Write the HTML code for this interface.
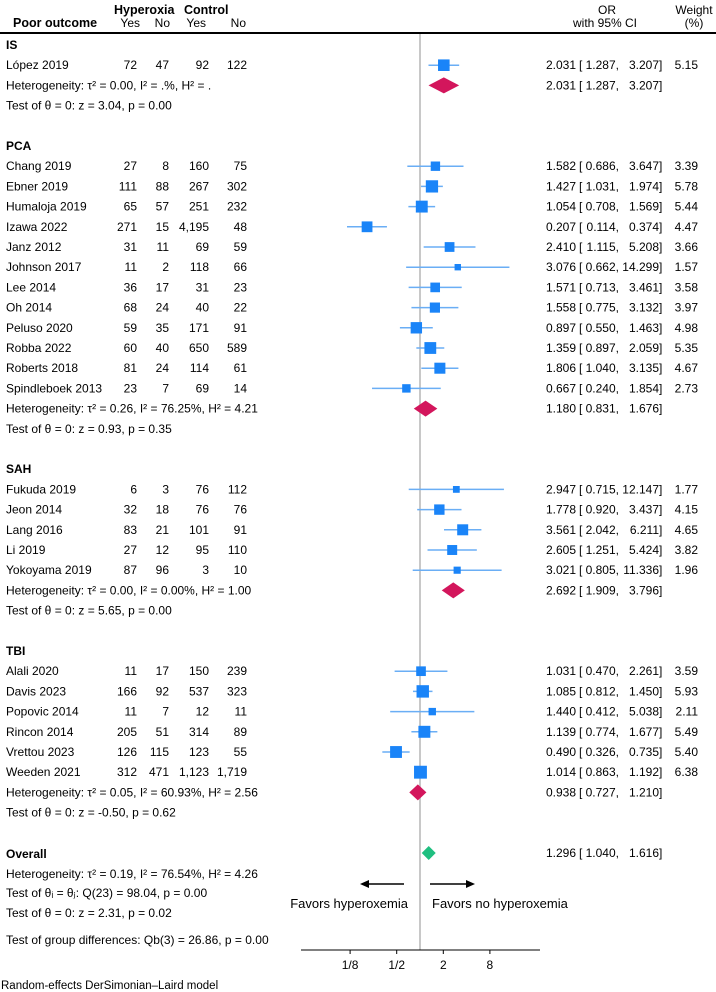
<!DOCTYPE html>
<html><head><meta charset="utf-8"><style>
html,body{margin:0;padding:0;background:#fff}
svg{display:block;font-family:"Liberation Sans",Arial,sans-serif;font-size:12px}
</style></head><body>
<svg id="plot" width="716" height="992" viewBox="0 0 716 992" xmlns="http://www.w3.org/2000/svg">
<g>
<text x="114" y="14" font-weight="bold" font-size="12.5">Hyperoxia</text>
<text x="184" y="14" font-weight="bold" font-size="12.5">Control</text>
<text x="13" y="27" font-weight="bold" font-size="12.5">Poor outcome</text>
<text x="140" y="27" text-anchor="end">Yes</text>
<text x="170" y="27" text-anchor="end">No</text>
<text x="206" y="27" text-anchor="end">Yes</text>
<text x="246" y="27" text-anchor="end">No</text>
<text x="607" y="14" text-anchor="middle">OR</text>
<text x="605" y="27" text-anchor="middle">with 95% CI</text>
<text x="694" y="14" text-anchor="middle">Weight</text>
<text x="694" y="27" text-anchor="middle">(%)</text>
<line x1="0" y1="33" x2="716" y2="33" stroke="#000" stroke-width="2"/>
</g>
<line x1="420" y1="34" x2="420" y2="950" stroke="#c8c8c8" stroke-width="2"/>
<g id="rows"></g>
<g>
<line x1="404" y1="884" x2="366" y2="884" stroke="#000" stroke-width="1.5"/>
<polygon points="360,884 369,880 369,888" fill="#000"/>
<line x1="430" y1="884" x2="468" y2="884" stroke="#000" stroke-width="1.5"/>
<polygon points="475,884 466,880 466,888" fill="#000"/>
<text x="408" y="908" text-anchor="end" font-size="13">Favors hyperoxemia</text>
<text x="432" y="908" font-size="13">Favors no hyperoxemia</text>
</g>
<g id="axis"></g>
<text x="1" y="989" font-size="11.5">Random-effects DerSimonian–Laird model</text>
</svg>
<script>
// Study data
const studyNames = ["López 2019","Chang 2019","Ebner 2019","Humaloja 2019","Izawa 2022","Janz 2012","Johnson 2017","Lee 2014","Oh 2014","Peluso 2020","Robba 2022","Roberts 2018","Spindleboek 2013","Fukuda 2019","Jeon 2014","Lang 2016","Li 2019","Yokoyama 2019","Alali 2020","Davis 2023","Popovic 2014","Rincon 2014","Vrettou 2023","Weeden 2021"];
const hyperYes = ["72","27","111","65","271","31","11","36","68","59","60","81","23","6","32","83","27","87","11","166","11","205","126","312"];
const hyperNo = ["47","8","88","57","15","11","2","17","24","35","40","24","7","3","18","21","12","96","17","92","7","51","115","471"];
const ctrlYes = ["92","160","267","251","4,195","69","118","31","40","171","650","114","69","76","76","101","95","3","150","537","12","314","123","1,123"];
const ctrlNo = ["122","75","302","232","48","59","66","23","22","91","589","61","14","112","76","91","110","10","239","323","11","89","55","1,719"];
const orEst = [2.031,1.582,1.427,1.054,0.207,2.410,3.076,1.571,1.558,0.897,1.359,1.806,0.667,2.947,1.778,3.561,2.605,3.021,1.031,1.085,1.440,1.139,0.490,1.014];
const orLo = [1.287,0.686,1.031,0.708,0.114,1.115,0.662,0.713,0.775,0.550,0.897,1.040,0.240,0.715,0.920,2.042,1.251,0.805,0.470,0.812,0.412,0.774,0.326,0.863];
const orHi = [3.207,3.647,1.974,1.569,0.374,5.208,14.299,3.461,3.132,1.463,2.059,3.135,1.854,12.147,3.437,6.211,5.424,11.336,2.261,1.450,5.038,1.677,0.735,1.192];
const weights = [5.15,3.39,5.78,5.44,4.47,3.66,1.57,3.58,3.97,4.98,5.35,4.67,2.73,1.77,4.15,4.65,3.82,1.96,3.59,5.93,2.11,5.49,5.40,6.38];
const studyRow = [1,6,7,8,9,10,11,12,13,14,15,16,17,22,23,24,25,26,31,32,33,34,35,36];
// Subgroup data
const groupNames = ["IS","PCA","SAH","TBI"];
const groupRow = [0,5,21,30];
const groupEst = [2.031,1.180,2.692,0.938];
const groupLo = [1.287,0.831,1.909,0.727];
const groupHi = [3.207,1.676,3.796,1.210];
const groupHet = ["τ² = 0.00, I² = .%, H² = .","τ² = 0.26, I² = 76.25%, H² = 4.21","τ² = 0.00, I² = 0.00%, H² = 1.00","τ² = 0.05, I² = 60.93%, H² = 2.56"];
const groupTest = ["z = 3.04, p = 0.00","z = 0.93, p = 0.35","z = 5.65, p = 0.00","z = -0.50, p = 0.62"];
const overallEst = 1.296, overallLo = 1.040, overallHi = 1.616;
const axisTicks = [0.125,0.5,2,8];
const axisTickLabels = ["1/8","1/2","2","8"];

const NS="http://www.w3.org/2000/svg";
const rowsG=document.getElementById('rows');
const X0=420, U=23.3;
function xs(v){return X0+Math.log2(v)*U;}
function rowY(r){return r<=39?45+20.2*r:854+(r-40)*19.7;}
function mk(tag,attrs,parent,txt){const e=document.createElementNS(NS,tag);for(const k in attrs)e.setAttribute(k,attrs[k]);if(txt!==undefined)e.textContent=txt;(parent||rowsG).appendChild(e);return e;}
function orText(y,e,l,h,g){
  mk('text',{x:576,y:y+4,'text-anchor':'end'},g,e.toFixed(3));
  mk('text',{x:579,y:y+4},g,'[');
  mk('text',{x:619,y:y+4,'text-anchor':'end'},g,l.toFixed(3)+',');
  mk('text',{x:659,y:y+4,'text-anchor':'end'},g,h.toFixed(3));
  mk('text',{x:659,y:y+4},g,']');
}
studyNames.forEach((n,i)=>{
  const y=rowY(studyRow[i]);
  const g=mk('g',{});
  
  
  mk('text',{x:6,y:y+4},g,n);
  mk('text',{x:137,y:y+4,'text-anchor':'end'},g,hyperYes[i]);
  mk('text',{x:169,y:y+4,'text-anchor':'end'},g,hyperNo[i]);
  mk('text',{x:209,y:y+4,'text-anchor':'end'},g,ctrlYes[i]);
  mk('text',{x:247,y:y+4,'text-anchor':'end'},g,ctrlNo[i]);
  const ci=mk('line',{x1:xs(orLo[i]),x2:xs(orHi[i]),y1:y,y2:y,stroke:'#6aaef5','stroke-width':1.5},g);
  
  
  const s=5.1*Math.sqrt(weights[i]);
  const sq=mk('rect',{x:xs(orEst[i])-s/2,y:y-s/2,width:s,height:s,fill:'#1a84f8'},g);
  
  
  orText(y,orEst[i],orLo[i],orHi[i],g);
  mk('text',{x:698,y:y+4,'text-anchor':'end'},g,weights[i].toFixed(2));
});
function diamond(y,e,l,h,color,g){
  const d=mk('polygon',{points:`${xs(l)},${y} ${xs(e)},${y-8} ${xs(h)},${y} ${xs(e)},${y+8}`,fill:color},g);
  
  
}
groupNames.forEach((n,i)=>{
  const r=groupRow[i];
  const g=mk('g',{});
  
  
  const nHet = i===0?2:(i===1?18:(i===2?27:37));
  mk('text',{x:6,y:rowY(r)+4,'font-weight':'bold'},g,n);
  mk('text',{x:6,y:rowY(nHet)+4},g,'Heterogeneity: '+groupHet[i]);
  mk('text',{x:6,y:rowY(nHet+1)+4},g,'Test of θ = 0: '+groupTest[i]);
  diamond(rowY(nHet),groupEst[i],groupLo[i],groupHi[i],'#d3165c',g);
  orText(rowY(nHet),groupEst[i],groupLo[i],groupHi[i],g);
});
// overall
const og=mk('g',{});


mk('text',{x:6,y:858,'font-weight':'bold'},og,'Overall');
mk('text',{x:6,y:878},og,'Heterogeneity: τ² = 0.19, I² = 76.54%, H² = 4.26');
mk('text',{x:6,y:897},og,'Test of θᵢ = θⱼ: Q(23) = 98.04, p = 0.00');
mk('text',{x:6,y:917},og,'Test of θ = 0: z = 2.31, p = 0.02');
mk('text',{x:6,y:944},og,'Test of group differences: Qb(3) = 26.86, p = 0.00');
const oy=853;
const od=mk('polygon',{points:`${xs(overallEst)-7},${oy} ${xs(overallEst)},${oy-7} ${xs(overallEst)+7},${oy} ${xs(overallEst)},${oy+7}`,fill:'#1fbf80'},og);


orText(oy,overallEst,overallLo,overallHi,og);
// axis
const ax=document.getElementById('axis');
mk('line',{x1:301,x2:540,y1:950,y2:950,stroke:'#000','stroke-width':1},ax);
axisTicks.forEach((t,i)=>{
  const tk=mk('line',{x1:xs(t),x2:xs(t),y1:950,y2:954,stroke:'#000'},ax);
  
  
  const tl=mk('text',{x:xs(t),y:969,'text-anchor':'middle'},ax,axisTickLabels[i]);
  
  
});
</script>
</body></html>
